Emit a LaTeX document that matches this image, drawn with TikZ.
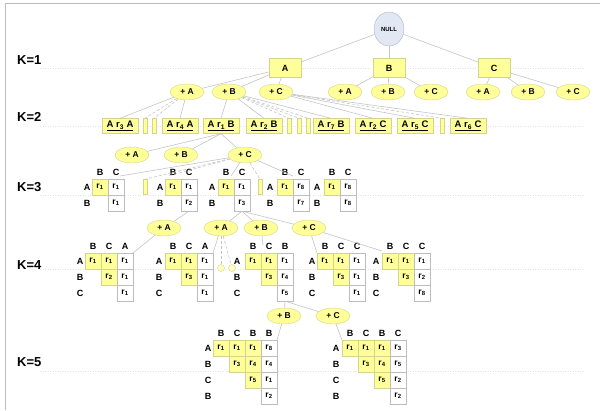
\documentclass[tikz,border=0pt]{standalone}
\usepackage{fontspec}
\setmainfont{Liberation Sans}
\usetikzlibrary{shapes.geometric}
\definecolor{treeyel}{HTML}{FFFF99}
\definecolor{treeyeldraw}{HTML}{D4D48C}
\definecolor{treenull}{HTML}{E1E7F3}
\definecolor{treenulldraw}{HTML}{AAB4CA}
\definecolor{treeline}{HTML}{C4C4C4}
\definecolor{treecell}{HTML}{BDBDBD}
\definecolor{treeguide}{HTML}{E4E4E4}
\colorlet{cfY}{treeyel}
\colorlet{cdY}{treeyeldraw}
\colorlet{cfW}{white}
\colorlet{cdW}{treecell}

\begin{document}
\begin{tikzpicture}[x=1pt,y=-1pt,font=\bfseries\fontsize{8.5}{9}\selectfont,
  root/.style={ellipse,draw=treenulldraw,fill=treenull,minimum width=30pt,
    minimum height=34pt,inner sep=0pt,font=\bfseries\fontsize{6}{7}\selectfont},
  itm/.style={draw=treeyeldraw,fill=treeyel,minimum width=32pt,
    minimum height=19pt,inner sep=0pt,font=\bfseries\fontsize{9}{10}\selectfont},
  ext/.style={ellipse,draw=treeyeldraw,fill=treeyel,minimum width=34pt,
    minimum height=16pt,inner sep=0pt},
  seq/.style={draw=treeyeldraw,fill=treeyel,minimum width=36pt,
    minimum height=15pt,inner sep=0pt,font=\bfseries\fontsize{9.5}{10}\selectfont},
  gap/.style={draw=treeyeldraw,fill=treeyel,minimum width=4pt,
    minimum height=15pt,inner sep=0pt},
  dot/.style={circle,draw=treeyeldraw,fill=treeyel!60,minimum size=7pt,inner sep=0pt},
  cell/.style={minimum size=16pt,inner sep=0pt},
  hdr/.style={inner sep=0pt,font=\bfseries\fontsize{9}{10}\selectfont},
  lvl/.style={anchor=west,inner sep=0pt,font=\bfseries\fontsize{13}{14}\selectfont},
  lnk/.style={draw=treeline,line width=0.6pt},
  lnkd/.style={lnk,dash pattern=on 3pt off 2pt},
  guide/.style={draw=treeguide,line width=0.5pt,dotted}]

  \useasboundingbox (0,0) rectangle (600,410);
  \draw[draw=treecell,line width=0.6pt] (5,410) -- (5,3) -- (600,3);

  % level guides and labels
  \foreach \y in {68,126,195,269,371}
    \draw[guide] (40,\y) -- (585,\y);
  \node[lvl] (k1) at (17,60) {K=1};
  \node[lvl] (k2) at (17,117) {K=2};
  \node[lvl] (k3) at (17,187) {K=3};
  \node[lvl] (k4) at (17,265) {K=4};
  \node[lvl] (k5) at (17,362) {K=5};

  % K=1
  \node[root] (null) at (389,29) {NULL};
  \node[itm] (iA) at (285,68) {A};
  \node[itm] (iB) at (389,68) {B};
  \node[itm] (iC) at (494,68) {C};
  \foreach \n in {iA,iB,iC}
    \draw[lnk] (null) -- (\n);

  \node[ext] (aA) at (187,92) {+ A};
  \node[ext] (aB) at (229,92) {+ B};
  \node[ext] (aC) at (276,92) {+ C};
  \node[ext] (bA) at (345,92) {+ A};
  \node[ext] (bB) at (388,92) {+ B};
  \node[ext] (bC) at (431,92) {+ C};
  \node[ext] (cA) at (483,92) {+ A};
  \node[ext] (cB) at (528,92) {+ B};
  \node[ext] (cC) at (573,92) {+ C};
  \foreach \p/\n in {iA/aA,iA/aB,iA/aC,iB/bA,iB/bB,iB/bC,iC/cA,iC/cB,iC/cC}
    \draw[lnk] (\p) -- (\n);

  % K=2
  \node[seq] (s3A) at (120,126) {\underline{A r\textsubscript{3} A}};
  \node[gap] (g1) at (145,126) {};
  \node[gap] (g2) at (154,126) {};
  \node[seq] (s4A) at (180,126) {\underline{A r\textsubscript{4} A}};
  \node[seq] (s1B) at (221,126) {\underline{A r\textsubscript{1} B}};
  \node[seq] (s2B) at (264,126) {\underline{A r\textsubscript{2} B}};
  \node[gap] (g3) at (289,126) {};
  \node[gap] (g4) at (299,126) {};
  \node[gap] (g5) at (308,126) {};
  \node[seq] (s7B) at (331,126) {\underline{A r\textsubscript{7} B}};
  \node[seq] (s2C) at (373,126) {\underline{A r\textsubscript{2} C}};
  \node[seq] (s5C) at (415,126) {\underline{A r\textsubscript{5} C}};
  \node[gap] (g6) at (442,126) {};
  \node[seq] (s6C) at (468,126) {\underline{A r\textsubscript{6} C}};

  \foreach \n in {s3A,s4A} \draw[lnk] (aA) -- (\n.north);
  \foreach \n in {g1,g2} \draw[lnkd] (aA) -- (\n.north);
  \foreach \n in {s1B,s2B,s7B} \draw[lnk] (aB) -- (\n.north);
  \foreach \n in {g3,g4,g5} \draw[lnkd] (aB) -- (\n.north);
  \foreach \n in {s2C,s5C,s6C} \draw[lnk] (aC) -- (\n.north);
  \draw[lnkd] (aC) -- (g6.north);

  \node[ext] (pA) at (132,155) {+ A};
  \node[ext] (pB) at (181,155) {+ B};
  \node[ext] (pC) at (245,155) {+ C};
  \foreach \n in {pA,pB,pC}
    \draw[lnk] (s1B.south) -- (\n);

  % K=3
  \begin{scope}[shift={(92,179)}]
    \foreach \c/\h in {0/B,1/C} \node[hdr] (t31h\c) at (8+16*\c,-7) {\h};
    \foreach \r/\h in {0/A,1/B} \node[hdr] (t31r\r) at (-5,8+16*\r) {\h};
    \foreach \c/\r/\f/\t in {0/0/Y/1,1/0/W/1,1/1/W/1}
      \node[cell,fill=cf\f,draw=cd\f] (t31c\c\r) at (8+16*\c,8+16*\r) {r\textsubscript{\t}};
    \coordinate (t31in) at (28,-3);
  \end{scope}
  \node[gap] (g7) at (145,187) {};
  \begin{scope}[shift={(165,179)}]
    \foreach \c/\h in {0/B,1/C} \node[hdr] (t32h\c) at (8+16*\c,-7) {\h};
    \foreach \r/\h in {0/A,1/B} \node[hdr] (t32r\r) at (-5,8+16*\r) {\h};
    \foreach \c/\r/\f/\t in {0/0/Y/1,1/0/W/1,1/1/W/2}
      \node[cell,fill=cf\f,draw=cd\f] (t32c\c\r) at (8+16*\c,8+16*\r) {r\textsubscript{\t}};
    \coordinate (t32in) at (3,-3);
  \end{scope}
  \begin{scope}[shift={(218,179)}]
    \foreach \c/\h in {0/B,1/C} \node[hdr] (t33h\c) at (8+16*\c,-7) {\h};
    \foreach \r/\h in {0/A,1/B} \node[hdr] (t33r\r) at (-6,8+16*\r) {\h};
    \foreach \c/\r/\f/\t in {0/0/Y/1,1/0/W/1,1/1/W/3}
      \node[cell,fill=cf\f,draw=cd\f] (t33c\c\r) at (8+16*\c,8+16*\r) {r\textsubscript{\t}};
    \coordinate (t33in) at (13,-3);
  \end{scope}
  \node[gap] (g8) at (260,187) {};
  \begin{scope}[shift={(277,179)}]
    \foreach \c/\h in {0/B,1/C} \node[hdr] (t34h\c) at (8+16*\c,-7) {\h};
    \foreach \r/\h in {0/A,1/B} \node[hdr] (t34r\r) at (-7,8+16*\r) {\h};
    \foreach \c/\r/\f/\t in {0/0/Y/1,1/0/W/8,1/1/W/7}
      \node[cell,fill=cf\f,draw=cd\f] (t34c\c\r) at (8+16*\c,8+16*\r) {r\textsubscript{\t}};
    \coordinate (t34in) at (16,-3);
  \end{scope}
  \begin{scope}[shift={(324,179)}]
    \foreach \c/\h in {0/B,1/C} \node[hdr] (t35h\c) at (8+16*\c,-7) {\h};
    \foreach \r/\h in {0/A,1/B} \node[hdr] (t35r\r) at (-7,8+16*\r) {\h};
    \foreach \c/\r/\f/\t in {0/0/Y/1,1/0/W/8,1/1/W/8}
      \node[cell,fill=cf\f,draw=cd\f] (t35c\c\r) at (8+16*\c,8+16*\r) {r\textsubscript{\t}};
  \end{scope}

  \foreach \n in {t31in,t33in,t34in} \draw[lnk] (pC) -- (\n);
  \draw[lnkd] (pC) -- (g7.north);
  \draw[lnkd] (pC) -- (t32in);
  \draw[lnkd] (pC) -- (g8.north);

  \node[ext] (qA) at (164,228) {+ A};
  \node[ext] (rA) at (221,228) {+ A};
  \node[ext] (rB) at (261,228) {+ B};
  \node[ext] (rC) at (309,228) {+ C};
  \draw[lnk] (t32c11.south) -- (qA);
  \foreach \n in {rA,rB,rC}
    \draw[lnk] (t33c11.south) -- (\n);

  % K=4
  \begin{scope}[shift={(85,253)}]
    \foreach \c/\h in {0/B,1/C,2/A} \node[hdr] (t41h\c) at (8+16*\c,-7) {\h};
    \foreach \r/\h in {0/A,1/B,2/C} \node[hdr] (t41r\r) at (-5,8+16*\r) {\h};
    \foreach \c/\r/\f/\t in {0/0/Y/1,1/0/Y/1,2/0/W/1,1/1/Y/2,2/1/W/1,2/2/W/1}
      \node[cell,fill=cf\f,draw=cd\f] (t41c\c\r) at (8+16*\c,8+16*\r) {r\textsubscript{\t}};
    \coordinate (t41in) at (48,0);
  \end{scope}
  \begin{scope}[shift={(165,253)}]
    \foreach \c/\h in {0/B,1/C,2/A} \node[hdr] (t42h\c) at (8+16*\c,-7) {\h};
    \foreach \r/\h in {0/A,1/B,2/C} \node[hdr] (t42r\r) at (-6,8+16*\r) {\h};
    \foreach \c/\r/\f/\t in {0/0/Y/1,1/0/Y/1,2/0/W/1,1/1/Y/3,2/1/W/1,2/2/W/1}
      \node[cell,fill=cf\f,draw=cd\f] (t42c\c\r) at (8+16*\c,8+16*\r) {r\textsubscript{\t}};
    \coordinate (t42in) at (48,0);
  \end{scope}
  \node[dot] (d1) at (221,268) {};
  \node[dot] (d2) at (232,268) {};
  \begin{scope}[shift={(245,253)}]
    \foreach \c/\h in {0/B,1/C,2/B} \node[hdr] (t43h\c) at (8+16*\c,-7) {\h};
    \foreach \r/\h in {0/A,1/B,2/C} \node[hdr] (t43r\r) at (-8,8+16*\r) {\h};
    \foreach \c/\r/\f/\t in {0/0/Y/1,1/0/Y/1,2/0/W/1,1/1/Y/3,2/1/W/4,2/2/W/5}
      \node[cell,fill=cf\f,draw=cd\f] (t43c\c\r) at (8+16*\c,8+16*\r) {r\textsubscript{\t}};
    \coordinate (t43in) at (18,-8);
  \end{scope}
  \begin{scope}[shift={(317,253)}]
    \foreach \c/\h in {0/B,1/C,2/C} \node[hdr] (t44h\c) at (8+16*\c,-7) {\h};
    \foreach \r/\h in {0/A,1/B,2/C} \node[hdr] (t44r\r) at (-5,8+16*\r) {\h};
    \foreach \c/\r/\f/\t in {0/0/Y/1,1/0/Y/1,2/0/W/1,1/1/Y/3,2/1/W/1,2/2/W/1}
      \node[cell,fill=cf\f,draw=cd\f] (t44c\c\r) at (8+16*\c,8+16*\r) {r\textsubscript{\t}};
    \coordinate (t44in) at (0,0);
  \end{scope}
  \begin{scope}[shift={(382,253)}]
    \foreach \c/\h in {0/B,1/C,2/C} \node[hdr] (t45h\c) at (8+16*\c,-7) {\h};
    \foreach \r/\h in {0/A,1/B,2/C} \node[hdr] (t45r\r) at (-6,8+16*\r) {\h};
    \foreach \c/\r/\f/\t in {0/0/Y/1,1/0/Y/1,2/0/W/1,1/1/Y/3,2/1/W/2,2/2/W/8}
      \node[cell,fill=cf\f,draw=cd\f] (t45c\c\r) at (8+16*\c,8+16*\r) {r\textsubscript{\t}};
    \coordinate (t45in) at (0,-2);
  \end{scope}

  \draw[lnk] (qA) -- (t41in);
  \draw[lnk] (rA) -- (t42in);
  \foreach \n in {d1,d2} \draw[lnkd] (rA) -- (\n);
  \draw[lnk] (rB) -- (t43in);
  \foreach \n in {t44in,t45in} \draw[lnk] (rC) -- (\n);

  \node[ext] (uB) at (284,316) {+ B};
  \node[ext] (uC) at (333,316) {+ C};
  \foreach \n in {uB,uC}
    \draw[lnk] (t43c22.south) -- (\n);

  % K=5
  \begin{scope}[shift={(213,340)}]
    \foreach \c/\h in {0/B,1/C,2/B,3/B} \node[hdr] (t51h\c) at (8+16*\c,-7) {\h};
    \foreach \r/\h in {0/A,1/B,2/C,3/B} \node[hdr] (t51r\r) at (-5,8+16*\r) {\h};
    \foreach \c/\r/\f/\t in {0/0/Y/1,1/0/Y/1,2/0/Y/1,3/0/W/8,1/1/Y/3,2/1/Y/4,3/1/W/4,
        2/2/Y/5,3/2/W/1,3/3/W/2}
      \node[cell,fill=cf\f,draw=cd\f] (t51c\c\r) at (8+16*\c,8+16*\r) {r\textsubscript{\t}};
    \coordinate (t51in) at (64,0);
  \end{scope}
  \begin{scope}[shift={(342,340)}]
    \foreach \c/\h in {0/B,1/C,2/B,3/C} \node[hdr] (t52h\c) at (8+16*\c,-7) {\h};
    \foreach \r/\h in {0/A,1/B,2/C,3/B} \node[hdr] (t52r\r) at (-6,8+16*\r) {\h};
    \foreach \c/\r/\f/\t in {0/0/Y/1,1/0/Y/1,2/0/Y/1,3/0/W/3,1/1/Y/3,2/1/Y/4,3/1/W/5,
        2/2/Y/5,3/2/W/2,3/3/W/2}
      \node[cell,fill=cf\f,draw=cd\f] (t52c\c\r) at (8+16*\c,8+16*\r) {r\textsubscript{\t}};
    \coordinate (t52in) at (0,0);
  \end{scope}

  \draw[lnk] (uB) -- (t51in);
  \draw[lnk] (uC) -- (t52in);
\end{tikzpicture}
\end{document}
